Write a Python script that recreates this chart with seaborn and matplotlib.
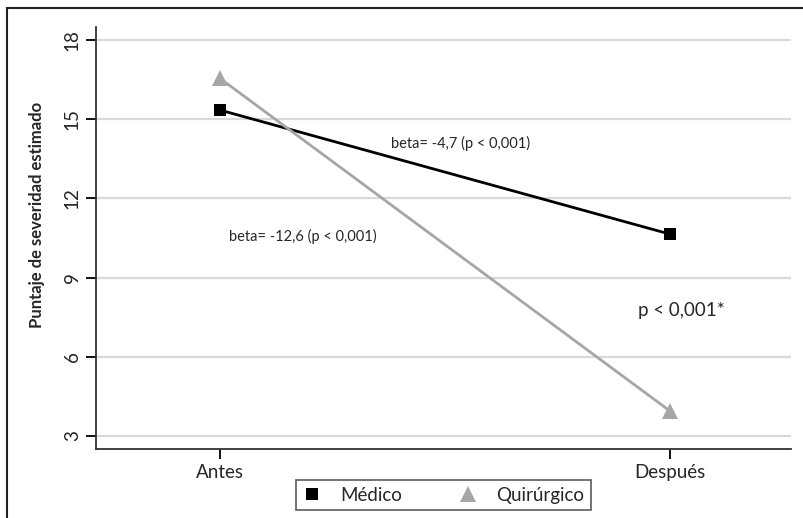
import pandas as pd
import numpy as np
import matplotlib
matplotlib.use('Agg')
import matplotlib.pyplot as plt
import seaborn as sns
from matplotlib.lines import Line2D
from matplotlib.patches import Rectangle

momentos = ['Antes', 'Después']
grupos = ['Médico', 'Quirúrgico']
medico = [15.35, 10.65]
quirurgico = [16.55, 3.95]
yticks = [3, 6, 9, 12, 15, 18]

df = pd.DataFrame({
    'momento': momentos * 2,
    'grupo': [grupos[0]] * 2 + [grupos[1]] * 2,
    'puntaje': medico + quirurgico,
})

sns.set_theme(style='white')
plt.rcParams['font.family'] = ['Lato', 'DejaVu Sans']

colores = {'Médico': '#000000', 'Quirúrgico': '#a6a6a6'}
marcas = {'Médico': 's', 'Quirúrgico': '^'}

fig = plt.figure(figsize=(8.04, 5.18), dpi=100)
ax = fig.add_axes([96 / 804, 1 - 449 / 518, (791 - 96) / 804, (449 - 27) / 518])

# marco exterior (solo se ve arriba e izquierda)
fig.patches.append(Rectangle((7 / 804, -0.05), 1.2, 1 - 8 / 518 + 0.05,
                             transform=fig.transFigure, fill=False,
                             edgecolor='#222222', lw=1.5))

for y in yticks:
    ax.axhline(y, color='#d9d9d9', lw=1.6, zorder=0)

sns.lineplot(data=df, x='momento', y='puntaje', hue='grupo', style='grupo',
             palette=colores, markers=marcas, dashes=False, lw=2,
             markersize=9, markeredgewidth=0, legend=False, ax=ax, sort=False)
# triángulo algo más grande
ax.lines[-1].set_markersize(12)

ax.set_xlim(-0.276, 1.27)
ax.set_ylim(2.5, 18.5)
ax.set_yticks(yticks)
ax.set_yticklabels([str(v) for v in yticks], rotation=90, va='center', fontsize=13.5)
ax.set_xticks([0, 1])
ax.set_xticklabels(momentos, fontsize=13.5)
ax.tick_params(axis='both', direction='out', length=7, width=1.3, color='black',
               left=True, bottom=True, pad=4)
ax.set_xlabel('')
ax.set_ylabel('Puntaje de severidad estimado', fontsize=12, fontweight='bold')
ax.yaxis.set_label_coords(-0.073, 0.555)

sns.despine(ax=ax)
for s in ['left', 'bottom']:
    ax.spines[s].set_color('#333333')
    ax.spines[s].set_linewidth(1.3)

ax.text(0.38, 14.1, 'beta= -4,7 (p < 0,001)', fontsize=10.5, ha='left', va='center')
ax.text(0.02, 10.55, 'beta= -12,6 (p < 0,001)', fontsize=10.5, ha='left', va='center')
ax.text(0.93, 7.75, 'p < 0,001*', fontsize=13.5, ha='left', va='center')

handles = [Line2D([], [], marker=marcas[g], ls='none', color=colores[g],
                  markersize=9 if g == 'Médico' else 12, markeredgewidth=0)
           for g in grupos]
leg = ax.legend(handles, grupos, loc='upper center', bbox_to_anchor=(0.5, -0.052),
                ncol=2, frameon=True, fancybox=False, fontsize=13.5,
                handletextpad=1.0, columnspacing=3.0, borderpad=0.35,
                handlelength=1.0)
leg.get_frame().set_edgecolor('#333333')
leg.get_frame().set_linewidth(1.2)

fig.savefig('out.png', dpi=100)
